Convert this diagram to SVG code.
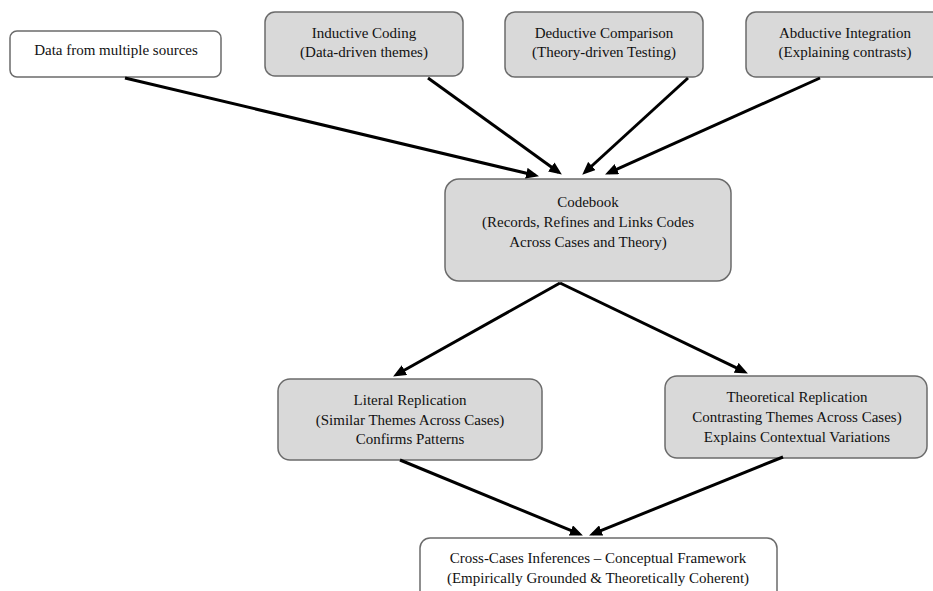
<svg xmlns="http://www.w3.org/2000/svg" width="933" height="591" viewBox="0 0 933 591">
<style>
.box{fill:#d9d9d9;stroke:#6b6b6b;stroke-width:1.5}
.wbox{fill:#ffffff;stroke:#6b6b6b;stroke-width:1.5}
text{font-family:"Liberation Serif","Times New Roman",serif;font-size:15px;fill:#111;text-anchor:middle}
.conn line{stroke:#000;stroke-width:3;marker-end:url(#ah)}
</style>
<defs>
<marker id="ah" markerUnits="userSpaceOnUse" markerWidth="13" markerHeight="11" viewBox="0 0 13 11" refX="9" refY="5.5" orient="auto">
<path d="M0,0 L13,5.5 L0,11 z" fill="#000"/>
</marker>
</defs>
<rect width="933" height="591" fill="#fff"/>
<g id="data">
<rect class="wbox" x="10" y="31" width="211" height="46" rx="7"/>
<text x="116" y="55">Data from multiple sources</text>
</g>
<g id="inductive">
<rect class="box" x="265" y="12" width="198" height="64" rx="10"/>
<text x="364" y="38">Inductive Coding</text>
<text x="364" y="57">(Data-driven themes)</text>
</g>
<g id="deductive">
<rect class="box" x="505" y="12" width="198" height="65" rx="10"/>
<text x="604" y="38">Deductive Comparison</text>
<text x="604" y="57">(Theory-driven Testing)</text>
</g>
<g id="abductive">
<rect class="box" x="746" y="12" width="196" height="65" rx="10"/>
<text x="845" y="38">Abductive Integration</text>
<text x="845" y="57">(Explaining contrasts)</text>
</g>
<g id="codebook">
<rect class="box" x="445" y="179" width="286" height="102" rx="14"/>
<text x="588" y="207">Codebook</text>
<text x="588" y="227">(Records, Refines and Links Codes</text>
<text x="588" y="247">Across Cases and Theory)</text>
</g>
<g id="literal">
<rect class="box" x="278" y="379" width="264" height="81" rx="12"/>
<text x="410" y="405">Literal Replication</text>
<text x="410" y="425">(Similar Themes Across Cases)</text>
<text x="410" y="444">Confirms Patterns</text>
</g>
<g id="theoretical">
<rect class="box" x="665" y="376" width="262" height="82" rx="12"/>
<text x="797" y="402">Theoretical Replication</text>
<text x="797" y="422">Contrasting Themes Across Cases)</text>
<text x="797" y="442">Explains Contextual Variations</text>
</g>
<g id="crosscases">
<rect class="wbox" x="420" y="538" width="357" height="70" rx="10"/>
<text x="598" y="563">Cross-Cases Inferences – Conceptual Framework</text>
<text x="598" y="583">(Empirically Grounded &amp; Theoretically Coherent)</text>
</g>
<g class="conn" id="connectors">
<line x1="125" y1="78" x2="535.1" y2="175.3"/>
<line x1="428" y1="78" x2="558.6" y2="172.2"/>
<line x1="688" y1="78" x2="585.2" y2="172"/>
<line x1="820" y1="78" x2="608.7" y2="172.8"/>
<line x1="560" y1="283" x2="396.6" y2="374.5"/>
<line x1="560" y1="283" x2="744.3" y2="371.7"/>
<line x1="400" y1="460" x2="579.2" y2="533.9"/>
<line x1="783" y1="457" x2="592.8" y2="533.9"/>
</g>
</svg>
